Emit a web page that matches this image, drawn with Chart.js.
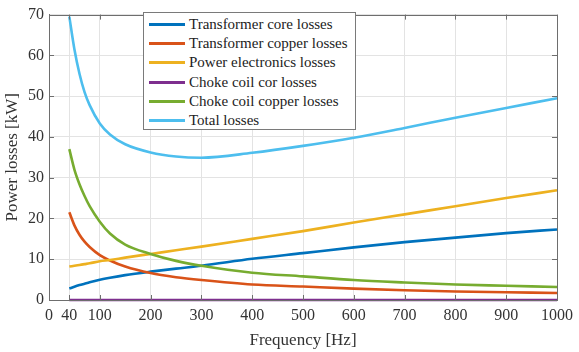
<!DOCTYPE html>
<html>
<head>
<meta charset="utf-8">
<script src="https://cdn.jsdelivr.net/npm/chart.js@4"></script>
<style>
    html, body { margin: 0; padding: 0; background: #fff; }
    #wrap { position: relative; width: 579px; height: 352px; }
    #legend {
        position: absolute; left: 143px; top: 12px; width: 213px; height: 118px;
        background: #fff; border: 1px solid #7a7a7a; box-sizing: border-box;
        font-family: "Liberation Serif", "Times New Roman", serif; font-size: 15px; color: #222;
        padding-top: 2px;
    }
    .leg-item { display: flex; align-items: center; height: 19.2px; }
    .leg-line { width: 36px; height: 3px; margin-left: 5px; margin-right: 4px; }
</style>
</head>
<body>
<div id="wrap">
    <canvas id="chart" width="579" height="352"></canvas>
    <div id="legend"></div>
</div>
<script>
// Frequency points (Hz)
const freq = [40, 50, 60, 70, 80, 100, 120, 150, 200, 250, 300, 400, 500, 600, 700, 800, 900, 1000];

// Power losses (kW)
const trafoCore   = [2.8, 3.25, 3.65, 4.0, 4.35, 4.95, 5.45, 6.1, 6.95, 7.7, 8.4, 10.1, 11.5, 12.9, 14.2, 15.3, 16.4, 17.3];
const trafoCopper = [21.5, 18.3, 16.0, 14.3, 13.0, 11.0, 9.7, 8.2, 6.6, 5.6, 4.9, 3.8, 3.3, 2.8, 2.4, 2.1, 1.9, 1.7];
const powerElec   = [8.2, 8.4, 8.6, 8.8, 9.0, 9.5, 9.8, 10.4, 11.3, 12.2, 13.1, 15.0, 16.9, 19.0, 21.0, 23.0, 25.0, 26.9];
const chokeCore   = [0, 0, 0, 0, 0, 0, 0, 0, 0, 0, 0, 0, 0, 0, 0, 0, 0, 0];
const chokeCopper = [37.0, 32.0, 28.4, 25.5, 23.0, 19.2, 16.3, 13.6, 11.3, 9.6, 8.4, 6.7, 5.8, 4.9, 4.3, 3.8, 3.5, 3.2];
const totalLosses = [69.5, 61.5, 55.5, 51.0, 47.8, 43.3, 40.6, 38.2, 36.2, 35.2, 34.9, 36.1, 37.8, 39.8, 42.2, 44.7, 47.1, 49.5];

const xTicks = [0, 40, 100, 200, 300, 400, 500, 600, 700, 800, 900, 1000];
const yTicks = [0, 10, 20, 30, 40, 50, 60, 70];

const series = [
    { label: 'Transformer core losses', data: trafoCore, color: '#0072BD' },
    { label: 'Transformer copper losses', data: trafoCopper, color: '#D95319' },
    { label: 'Power electronics losses', data: powerElec, color: '#EDB120' },
    { label: 'Choke coil cor losses', data: chokeCore, color: '#7E2F8E' },
    { label: 'Choke coil copper losses', data: chokeCopper, color: '#77AC30' },
    { label: 'Total losses', data: totalLosses, color: '#4DBEEE' }
];

const serif = '"Liberation Serif", "Times New Roman", serif';
const axisColor = '#6e6e6e';

// box around plot + inward ticks (matlab style)
const boxPlugin = {
    id: 'box',
    afterDatasetsDraw(chart) {
        const { ctx, chartArea: a, scales } = chart;
        ctx.save();
        ctx.strokeStyle = axisColor;
        ctx.lineWidth = 1;
        ctx.beginPath();
        scales.x.ticks.forEach(t => {
            const px = Math.round(scales.x.getPixelForValue(t.value)) + 0.5;
            ctx.moveTo(px, a.bottom); ctx.lineTo(px, a.bottom - 5);
            ctx.moveTo(px, a.top); ctx.lineTo(px, a.top + 5);
        });
        scales.y.ticks.forEach(t => {
            const py = Math.round(scales.y.getPixelForValue(t.value)) + 0.5;
            ctx.moveTo(a.left, py); ctx.lineTo(a.left + 5, py);
            ctx.moveTo(a.right, py); ctx.lineTo(a.right - 5, py);
        });
        ctx.stroke();
        ctx.strokeRect(Math.round(a.left) + 0.5, Math.round(a.top) + 0.5, Math.round(a.right - a.left), Math.round(a.bottom - a.top));
        ctx.restore();
    }
};

function init() {
    const datasets = series.map((s, i) => ({
        label: s.label,
        data: freq.map((f, j) => ({ x: f, y: s.data[j] })),
        borderColor: s.color,
        backgroundColor: s.color,
        borderWidth: 2.6,
        pointRadius: 0,
        cubicInterpolationMode: 'monotone',
        clip: i === 3 ? false : 2,
        order: series.length - i
    }));

    new Chart(document.getElementById('chart'), {
        type: 'line',
        data: { datasets },
        options: {
            responsive: false,
            animation: false,
            layout: { padding: { top: 9, right: 18, left: 0, bottom: 0 } },
            plugins: { legend: { display: false }, tooltip: { enabled: false } },
            scales: {
                x: {
                    type: 'linear', min: 0, max: 1000,
                    afterBuildTicks: sc => { sc.ticks = xTicks.map(v => ({ value: v })); },
                    afterFit: sc => { sc.height = 52; },
                    grid: { color: '#e3e3e3', drawTicks: false },
                    border: { color: axisColor },
                    ticks: { color: '#333', font: { family: serif, size: 16 }, padding: 6, maxRotation: 0, autoSkip: false, callback: v => String(v) },
                    title: { display: true, text: 'Frequency [Hz]', color: '#333', font: { family: serif, size: 17 }, padding: { top: 2, bottom: 1 } }
                },
                y: {
                    min: 0, max: 70,
                    afterBuildTicks: sc => { sc.ticks = yTicks.map(v => ({ value: v })); },
                    afterFit: sc => { sc.width = 49; },
                    grid: { color: '#e3e3e3', drawTicks: false },
                    border: { color: axisColor },
                    ticks: { color: '#333', font: { family: serif, size: 16 }, padding: 5, callback: v => String(v) },
                    title: { display: true, text: 'Power losses [kW]', color: '#333', font: { family: serif, size: 17 }, padding: { top: 2, bottom: 0 } }
                }
            }
        },
        plugins: [boxPlugin]
    });

    document.getElementById('legend').innerHTML = series.map(s =>
        `<div class="leg-item"><div class="leg-line" style="background:${s.color}"></div><span>${s.label}</span></div>`
    ).join('');
}

window.addEventListener('DOMContentLoaded', init);
</script>
</body>
</html>
